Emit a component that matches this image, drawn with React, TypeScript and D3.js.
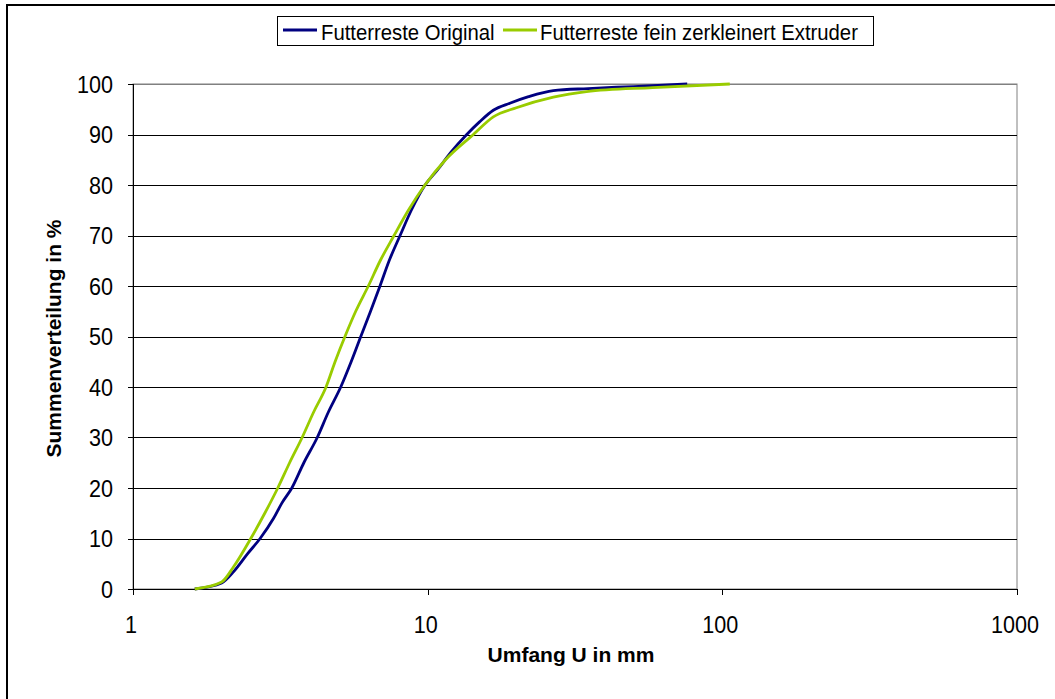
import React from "react";
import * as d3 from "d3";

const W = 1055;
const H = 699;

const seriesNames = ["Futterreste Original", "Futterreste fein zerkleinert Extruder"];
const seriesColors = ["#000080", "#99CC00"];

const originalX = [1.62, 2.0, 2.2, 2.45, 2.7, 3.0, 3.2, 3.46, 3.8, 4.22, 4.6, 5.07, 5.5, 5.93, 6.4, 6.89, 7.4, 8.06, 8.8, 9.8, 10.8, 12, 13.57, 15, 16.7, 19, 22, 26.7, 35, 50, 76];
const originalY = [0, 1.2, 3.5, 7, 10, 14, 17, 20, 25, 30, 35, 40, 45, 50, 55, 60, 65, 70, 75, 80, 83, 86.5, 90, 92.5, 94.8, 96.2, 97.5, 98.7, 99.1, 99.5, 100];

const feinX = [1.62, 2.0, 2.2, 2.51, 2.8, 3.1, 3.4, 3.75, 4.1, 4.52, 4.85, 5.24, 5.7, 6.29, 6.9, 7.69, 8.6, 9.79, 11.5, 14.29, 16.7, 20, 26.7, 34.6, 58, 106];
const feinY = [0, 1.4, 4.5, 10, 15, 20, 25, 30, 35, 40, 45, 50, 55, 60, 65, 70, 75, 80, 85, 90, 93.5, 95.3, 97.4, 98.5, 99.3, 100];

const xTicks = [1, 10, 100, 1000];
const yTicks = [0, 10, 20, 30, 40, 50, 60, 70, 80, 90, 100];

const xTitle = "Umfang U in mm";
const yTitle = "Summenverteilung in %";

export default function App() {
  const left = 133, right = 1017, top = 84, bottom = 589;
  const x = d3.scaleLog().domain([1, 1000]).range([left, right]);
  const y = d3.scaleLinear().domain([0, 100]).range([bottom, top]);
  const line = d3
    .line<[number, number]>()
    .x((d) => x(d[0]))
    .y((d) => y(d[1]))
    .curve(d3.curveMonotoneX);

  const series = [
    originalX.map((v, i) => [v, originalY[i]] as [number, number]),
    feinX.map((v, i) => [v, feinY[i]] as [number, number]),
  ];

  const font = "'Liberation Sans', Arial, sans-serif";
  const tickFs = 21.6;
  const tickStretch = 1.12;

  return (
    <svg
      width={W}
      height={H}
      style={{ position: "absolute", left: 0, top: 0, background: "#fff" }}
      fontFamily={font}
    >
      <rect x={7} y={5} width={1100} height={800} fill="#fff" stroke="#000" strokeWidth={2} />
      {/* plot area */}
      <rect x={left} y={top} width={right - left} height={bottom - top} fill="#fff" stroke="#808080" strokeWidth={1} />
      {yTicks.map((t) => (
        <line key={"g" + t} x1={left} x2={right} y1={Math.round(y(t)) + 0.5} y2={Math.round(y(t)) + 0.5} stroke={t === 100 ? "#808080" : "#000"} strokeWidth={1} />
      ))}
      {/* axes */}
      <line x1={left + 0.5} x2={left + 0.5} y1={top} y2={bottom} stroke="#000" />
      <line x1={left} x2={right} y1={bottom + 0.5} y2={bottom + 0.5} stroke="#000" />
      {yTicks.map((t) => (
        <g key={"yt" + t}>
          <line x1={left - 5} x2={left} y1={Math.round(y(t)) + 0.5} y2={Math.round(y(t)) + 0.5} stroke="#000" />
          <text
            transform={`translate(113, ${y(t) + 8.7}) scale(1, ${tickStretch})`}
            textAnchor="end"
            fontSize={tickFs}
            fill="#000"
          >
            {t}
          </text>
        </g>
      ))}
      {xTicks.map((t) => (
        <g key={"xt" + t}>
          <line x1={Math.round(x(t)) + 0.5} x2={Math.round(x(t)) + 0.5} y1={bottom} y2={bottom + 6} stroke="#000" />
          <text
            transform={`translate(${x(t) - 2}, 633) scale(1, ${tickStretch})`}
            textAnchor="middle"
            fontSize={tickFs}
            fill="#000"
          >
            {t}
          </text>
        </g>
      ))}
      {series.map((s, i) => (
        <path key={"s" + i} d={line(s) || ""} fill="none" stroke={seriesColors[i]} strokeWidth={2.8} strokeLinejoin="round" />
      ))}
      <text x={571} y={662} textAnchor="middle" fontSize={21} fontWeight="bold">
        {xTitle}
      </text>
      <text
        transform={`translate(61, 338.5) rotate(-90)`}
        textAnchor="middle"
        fontSize={21}
        fontWeight="bold"
      >
        {yTitle}
      </text>
      {/* legend */}
      <rect x={277.5} y={16.5} width={596} height={29} fill="#fff" stroke="#000" strokeWidth={1} />
      <line x1={283} x2={317} y1={30} y2={30} stroke={seriesColors[0]} strokeWidth={3} />
      <text transform="translate(321, 40) scale(1, 1.05)" fontSize={20.3}>{seriesNames[0]}</text>
      <line x1={503} x2={537} y1={30} y2={30} stroke={seriesColors[1]} strokeWidth={3} />
      <text transform="translate(540, 40) scale(1, 1.05)" fontSize={20.3}>{seriesNames[1]}</text>
    </svg>
  );
}
